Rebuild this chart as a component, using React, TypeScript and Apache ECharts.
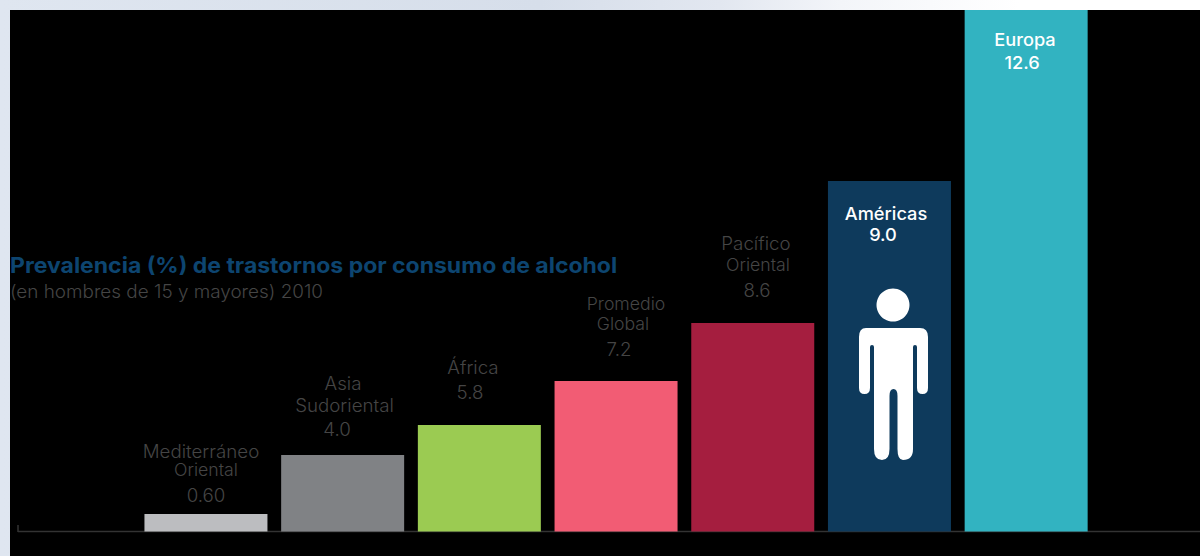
import React, { useEffect, useRef } from "react";
import * as echarts from "echarts";

const categories = ["Mediterráneo Oriental", "Asia Sudoriental", "África", "Promedio Global", "Pacífico Oriental", "Américas", "Europa"];
const printedValues = ["0.60", "4.0", "5.8", "7.2", "8.6", "9.0", "12.6"];
// Drawn bar heights (the source graphic is not proportional to the printed values)
const drawnHeights = [17.5, 76.5, 106.5, 150.5, 208.5, 350.5, 521.5];
const barColors = ["#bcbdc0", "#808285", "#9bcb52", "#f25c74", "#a51e3f", "#0e3a5c", "#32b3c1"];
const titleText = "Prevalencia (%) de trastornos por consumo de alcohol";
const subtitleText = "(en hombres de 15 y mayores) 2010";

const FONT = "Inter, 'Noto Sans', sans-serif";
const DIM = "#454545";

const labelLines: [string, number, number, string, number, number][] = [
  ["Mediterráneo", 201, 451, DIM, 18, 300],
  ["Oriental", 206, 470, DIM, 17, 300],
  [printedValues[0], 206, 495, DIM, 18, 300],
  ["Asia", 343, 383, DIM, 18, 300],
  ["Sudoriental", 344.5, 405, DIM, 18, 300],
  [printedValues[1], 337, 429, DIM, 18, 300],
  ["África", 473, 367, DIM, 18, 300],
  [printedValues[2], 470, 392, DIM, 18, 300],
  ["Promedio", 626, 304, DIM, 17, 300],
  ["Global", 623, 324, DIM, 17, 300],
  [printedValues[3], 619, 349, DIM, 18, 300],
  ["Pacífico", 756, 243, DIM, 18, 300],
  ["Oriental", 758, 265, DIM, 17, 300],
  [printedValues[4], 757, 290, DIM, 18, 300],
  ["Américas", 886, 214, "#ffffff", 17.5, 500],
  [printedValues[5], 883, 235, "#ffffff", 17.5, 500],
  ["Europa", 1025, 40, "#ffffff", 17.5, 500],
  [printedValues[6], 1022, 63, "#ffffff", 17.5, 500],
];

const personPath =
  "M866 328 L920 328 Q928 328 928 337 L928 388 Q928 394 922.5 394 Q917 394 917 388 L917 347 Q917 345 915 345 Q913 345 913 347 L913 449 Q913 460 903 460 Q897.5 460 897.5 449 L897.5 396 Q897.5 389 893.5 389 Q889.5 389 889.5 396 L889.5 449 Q889.5 460 882 460 Q874 460 874 449 L874 347 Q874 345 872 345 Q870 345 870 347 L870 388 Q870 394 864.5 394 Q859 394 859 388 L859 337 Q859 328 866 328 Z";

export default function App() {
  const ref = useRef<HTMLDivElement>(null);
  useEffect(() => {
    document.body.style.margin = "0";
    echarts.graphic.registerShape("personBody", echarts.graphic.extendPath(personPath, {}));
    const chart = echarts.init(ref.current!, null, { renderer: "svg" });
    chart.setOption({
      animation: false,
      backgroundColor: "transparent",
      grid: { left: 137.6, right: 105.5, top: 10, bottom: 24.5 },
      xAxis: {
        type: "category",
        data: categories,
        axisLine: { show: false },
        axisTick: { show: false },
        axisLabel: { show: false },
      },
      yAxis: { type: "value", min: 0, max: 521.5, show: false },
      series: [
        {
          type: "bar",
          barWidth: 123,
          data: drawnHeights.map((v, i) => ({ value: v, itemStyle: { color: barColors[i] } })),
          silent: true,
        },
      ],
      graphic: [
        { type: "line", z: 1, shape: { x1: 18, y1: 531.5, x2: 1200, y2: 531.5 }, style: { stroke: "#333333", lineWidth: 1.5 } },
        { type: "line", z: 1, shape: { x1: 18, y1: 525, x2: 18, y2: 532 }, style: { stroke: "#333333", lineWidth: 1.5 } },
        { type: "text", z: 10, x: 10, y: 264.5, scaleX: 1.07, style: { text: titleText, fill: "#0d4570", font: `700 21.5px ${FONT}`, textAlign: "left", textVerticalAlign: "middle" } },
        { type: "text", z: 10, x: 10, y: 291.5, scaleX: 1.05, style: { text: subtitleText, fill: DIM, font: `300 18px ${FONT}`, textAlign: "left", textVerticalAlign: "middle" } },
        ...labelLines.map(([text, x, y, fill, size, weight]) => ({
          type: "text", z: 10, x, y, scaleX: 1.04,
          style: { text, fill, font: `${weight} ${size}px ${FONT}`, textAlign: "center", textVerticalAlign: "middle" },
        })),
        { type: "circle", z: 10, shape: { cx: 893, cy: 305, r: 16.5 }, style: { fill: "#ffffff" } },
        { type: "personBody", z: 10, style: { fill: "#ffffff" } },
      ],
    });
    return () => chart.dispose();
  }, []);
  return (
    <div style={{ position: "absolute", left: 0, top: 0, width: 1200, height: 556, overflow: "hidden",
      background: "linear-gradient(90deg,#dfe6f0 0%,#d6deea 45%,#e2e7f0 60%,#f3f5f9 70%,#ffffff 85%,#ffffff 100%)" }}>
      <div style={{ position: "absolute", left: 10, top: 10, right: 0, bottom: 0, background: "#000" }} />
      <div ref={ref} style={{ position: "absolute", left: 0, top: 0, width: 1200, height: 556 }} />
    </div>
  );
}
